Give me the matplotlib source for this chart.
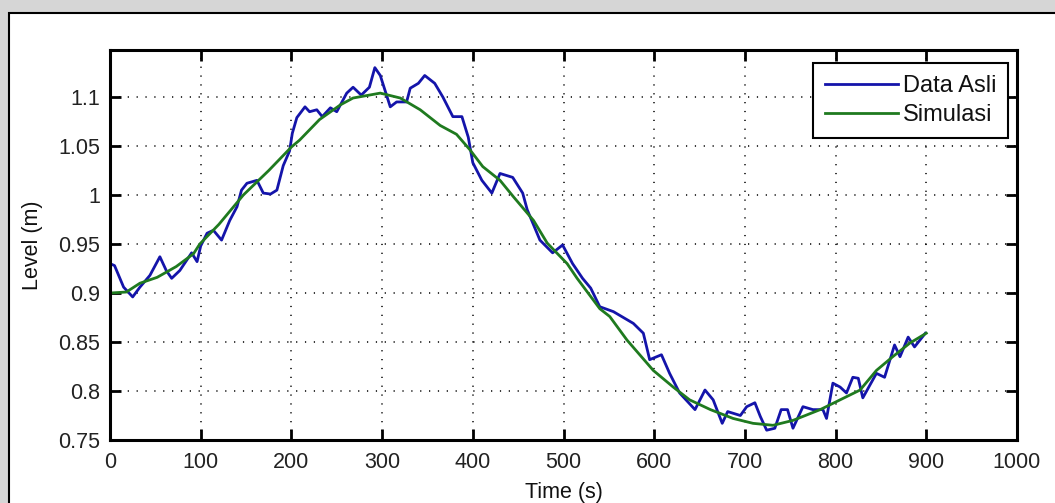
import matplotlib
matplotlib.use("Agg")
import matplotlib.pyplot as plt
from matplotlib.patches import Rectangle

# measured level (blue) and simulated response (green)
t_data = [0, 5, 15, 25, 33, 44, 55, 62, 68, 77, 90, 96, 100, 107, 114, 123,
          132, 140, 145, 151, 162, 169, 177, 184, 191, 198, 201, 206, 215,
          220, 228, 234, 243, 250, 261, 268, 277, 286, 292, 298, 309, 316,
          327, 331, 340, 347, 358, 367, 378, 388, 395, 400, 410, 421, 430,
          444, 455, 460, 474, 488, 499, 510, 521, 530, 540, 555, 577, 588,
          595, 608, 617, 628, 645, 656, 665, 675, 681, 695, 702, 711, 717,
          724, 733, 740, 747, 753, 764, 775, 786, 790, 797, 805, 812, 819,
          825, 830, 845, 854, 865, 871, 880, 887, 899]
level_data = [0.930, 0.928, 0.906, 0.896, 0.906, 0.918, 0.937, 0.923, 0.915,
              0.923, 0.941, 0.932, 0.948, 0.961, 0.964, 0.954, 0.974, 0.988,
              1.005, 1.012, 1.015, 1.002, 1.001, 1.005, 1.030, 1.045, 1.063,
              1.079, 1.090, 1.085, 1.087, 1.080, 1.089, 1.085, 1.104, 1.110,
              1.102, 1.110, 1.130, 1.122, 1.090, 1.095, 1.095, 1.109, 1.114,
              1.122, 1.114, 1.100, 1.080, 1.080, 1.059, 1.033, 1.015, 1.002,
              1.022, 1.018, 1.002, 0.985, 0.954, 0.941, 0.949, 0.930, 0.915,
              0.905, 0.886, 0.881, 0.869, 0.859, 0.832, 0.837, 0.818, 0.798,
              0.781, 0.801, 0.791, 0.767, 0.779, 0.775, 0.784, 0.788, 0.774,
              0.760, 0.762, 0.781, 0.781, 0.762, 0.784, 0.781, 0.781, 0.772,
              0.808, 0.804, 0.798, 0.814, 0.813, 0.793, 0.818, 0.814, 0.847,
              0.835, 0.855, 0.845, 0.859]

t_sim = [0, 18, 33, 52, 73, 92, 99, 120, 147, 175, 200, 209, 231, 254, 268,
         298, 320, 342, 364, 382, 397, 411, 430, 445, 467, 482, 504, 515, 540,
         551, 570, 599, 621, 639, 662, 687, 709, 731, 753, 783, 805, 827, 845,
         863, 882, 900]
level_sim = [0.900, 0.901, 0.910, 0.916, 0.927, 0.940, 0.950, 0.970, 1.000,
             1.025, 1.049, 1.056, 1.077, 1.092, 1.099, 1.104, 1.099, 1.087,
             1.071, 1.062, 1.046, 1.029, 1.015, 0.998, 0.974, 0.951, 0.930,
             0.915, 0.884, 0.876, 0.852, 0.821, 0.804, 0.791, 0.781, 0.772,
             0.767, 0.765, 0.770, 0.781, 0.791, 0.801, 0.821, 0.835, 0.849,
             0.859]

x_ticks = [0, 100, 200, 300, 400, 500, 600, 700, 800, 900, 1000]
y_ticks = [0.75, 0.8, 0.85, 0.9, 0.95, 1.0, 1.05, 1.1]
y_tick_labels = ["0.75", "0.8", "0.85", "0.9", "0.95", "1", "1.05", "1.1"]

plt.rcParams["font.family"] = ["Liberation Sans", "DejaVu Sans"]

fig = plt.figure(figsize=(10.55, 5.03), dpi=100)
fig.patch.set_facecolor("#d6d6d6")

# white figure window with black border
frame = Rectangle((9 / 1055, -0.05), 1.2, 1 - 13 / 503 + 0.05,
                  transform=fig.transFigure, facecolor="white",
                  edgecolor="black", linewidth=1.5, zorder=-10)
fig.patches.append(frame)

ax = fig.add_axes([110 / 1055, 1 - 440 / 503, 907 / 1055, 390 / 503])
ax.plot(t_data, level_data, color="#1414aa", linewidth=2, label="Data Asli")
ax.plot(t_sim, level_sim, color="#1f7a1f", linewidth=2, label="Simulasi")

ax.set_xlim(0, 1000)
ax.set_ylim(0.75, 1.148)
ax.set_xticks(x_ticks)
ax.set_yticks(y_ticks)
ax.set_yticklabels(y_tick_labels)

ax.grid(True, color="black", linestyle=(0, (0.8, 5)), linewidth=1.1)
ax.tick_params(direction="in", length=8, width=2, top=True, right=True,
               colors="black", labelcolor="#222222", labelsize=15.5)
ax.tick_params(axis="y", pad=7)
ax.tick_params(axis="x", pad=9)
for sp in ax.spines.values():
    sp.set_linewidth(2.2)

ax.set_xlabel("Time (s)", fontsize=15.5, color="#111111", labelpad=6)
ax.set_ylabel("Level (m)", fontsize=15.5, color="#111111", labelpad=11)

leg = ax.legend(loc="upper right", bbox_to_anchor=(1 - 9 / 907, 1 - 13 / 390),
                borderaxespad=0, fontsize=17, fancybox=False,
                framealpha=1, edgecolor="black", handlelength=3.1,
                handletextpad=0.2, labelspacing=0.3, borderpad=0.5)
leg.get_frame().set_linewidth(1.5)
for txt in leg.get_texts():
    txt.set_color("#111111")

fig.savefig("out.png", dpi=100, facecolor=fig.get_facecolor())
